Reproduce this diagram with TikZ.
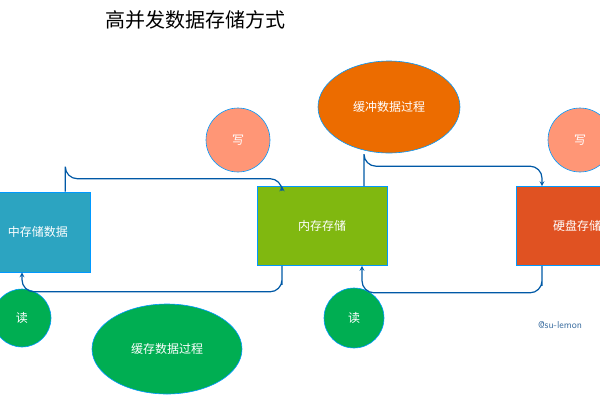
\documentclass[tikz,border=0pt]{standalone}
\usepackage{fontspec}
\usetikzlibrary{shapes.geometric}
\newfontfamily\cjk{Noto Sans CJK SC}
\begin{document}
\begin{tikzpicture}[x=1pt,y=-1pt,
 box/.style={draw=blue!40!cyan,line width=0.6pt,minimum width=130pt,minimum height=79pt,text=white,font=\cjk\fontsize{12}{14}\selectfont},
 circ/.style={circle,draw=blue!40!cyan,line width=0.6pt,text=white,font=\cjk\fontsize{12}{14}\selectfont},
 conn/.style={draw=teal!70!blue,line width=1.2pt,-stealth,rounded corners=12pt}]
\useasboundingbox (0,0) rectangle (600,400);
\clip (0,0) rectangle (600,400);
\node[font=\cjk\fontsize{20}{24}\selectfont] (title) at (195,20) {高并发数据存储方式};
\node[box,minimum height=80pt,fill={rgb,255:red,44;green,164;blue,193}] (b1) at (25,232) {};
\node[font=\cjk\fontsize{12}{14}\selectfont,text=white] (b1t) at (38,232) {中存储数据};
\node[box,fill={rgb,255:red,128;green,184;blue,16}] (b2) at (322,226) {内存存储};
\node[box,fill={rgb,255:red,224;green,82;blue,34}] (b3) at (581,226) {};
\node[font=\cjk\fontsize{12}{14}\selectfont,text=white] (b3t) at (577,226) {硬盘存储};
\node[circ,minimum size=64pt,fill={rgb,255:red,255;green,150;blue,118}] (w1) at (238,140) {写};
\node[circ,minimum size=64pt,fill={rgb,255:red,255;green,150;blue,118}] (w2) at (580,140) {写};
\node[circ,minimum size=58pt,fill={rgb,255:red,0;green,174;blue,82}] (r1) at (22,318) {读};
\node[circ,minimum size=60pt,fill={rgb,255:red,0;green,174;blue,82}] (r2) at (354,318) {读};
\node[ellipse,draw=blue!40!cyan,line width=0.6pt,minimum width=142pt,minimum height=92pt,fill={rgb,255:red,236;green,108;blue,0},text=white,font=\cjk\fontsize{12}{14}\selectfont] (e1) at (389,107) {缓冲数据过程};
\node[ellipse,draw=blue!40!cyan,line width=0.6pt,minimum width=150pt,minimum height=90pt,fill={rgb,255:red,0;green,174;blue,82},text=white,font=\cjk\fontsize{12}{14}\selectfont] (e2) at (167,349) {缓存数据过程};
\node[font=\fontsize{10}{12}\selectfont\sffamily,text={rgb,255:red,60;green,110;blue,160}] (at) at (560,325) {@su-lemon};
\draw[conn] ([xshift=-25pt]b1.north east) |- ++(0,-13) -| ([xshift=-40pt]b2.north);
\draw[conn] ([xshift=42pt]b2.north) |- ++(0,-20) -| ([xshift=-39pt]b3.north);
\draw[conn] ([xshift=-39pt]b3.south) |- ++(0,27) -| ([xshift=40pt]b2.south);
\draw[conn] ([xshift=-40pt]b2.south) |- ++(0,26) -| ([xshift=-3pt]b1.south);
\end{tikzpicture}
\end{document}
